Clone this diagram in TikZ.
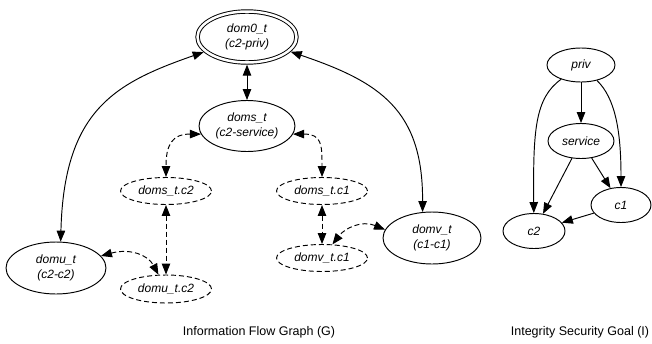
\documentclass[tikz,border=0pt]{standalone}
\usepackage{fontspec}
\setmainfont{Liberation Sans}
\usetikzlibrary{arrows.meta, shapes.geometric}

\begin{document}
\begin{tikzpicture}[
    x=1pt, y=-1pt,
    domnode/.style={
        ellipse, draw=black, line width=0.95pt, inner sep=0pt,
        minimum width=98pt, minimum height=52pt,
        align=center, font=\fontsize{12}{15}\selectfont\itshape
    },
    subnode/.style={
        domnode, dashed, dash pattern=on 5pt off 3pt,
        minimum width=91pt, minimum height=27pt
    },
    goalnode/.style={
        domnode, minimum width=66pt, minimum height=35pt
    },
    graphtitle/.style={font=\fontsize{12.5}{15}\selectfont},
    flow/.style={{Triangle[length=11pt,width=8.5pt]}-{Triangle[length=11pt,width=8.5pt]}, line width=0.95pt, draw=black},
    subflow/.style={flow, dash pattern=on 5pt off 3pt},
    goal/.style={-{Triangle[length=11pt,width=8.5pt]}, line width=0.95pt, draw=black}
]
\useasboundingbox (0,0) rectangle (652,343);

% Information flow graph
\node[domnode, double, double distance=2.5pt, outer sep=2.2pt,
      minimum width=99pt, minimum height=51pt] (dom0) at (247,37) {dom0\_t\\(c2-priv)};
\node[domnode, minimum width=96pt, minimum height=51pt] (doms) at (247,126) {doms\_t\\(c2-service)};
\node[domnode, minimum width=100pt] (domu) at (56,268) {domu\_t\\(c2-c2)};
\node[domnode] (domv) at (432,238) {domv\_t\\(c1-c1)};

% Sub-domains (dashed)
\node[subnode] (domsC2) at (166,191) {doms\_t.c2};
\node[subnode, minimum height=28pt] (domuC2) at (166,289) {domu\_t.c2};
\node[subnode] (domsC1) at (322,191) {doms\_t.c1};
\node[subnode] (domvC1) at (322,258) {domv\_t.c1};

% Flows from dom0_t
\draw[flow] (dom0) -- (doms);
\draw[flow] (dom0) .. controls (115,83) and (64,110) .. (domu.80);
\draw[flow] (dom0) .. controls (380,82) and (423,110) .. (domv.110);

% Flows between sub-domains
\draw[subflow] (doms.190) .. controls (172,134) and (166,145) .. (domsC2);
\draw[subflow] (doms.350) .. controls (322,134) and (322,145) .. (domsC1);
\draw[subflow] (domsC2) -- (domuC2);
\draw[subflow] (domsC1) -- (domvC1);
\draw[subflow] (domu.15) .. controls (130,248) and (148,255) .. (domuC2);
\draw[subflow] (domv.170) .. controls (362,220) and (345,228) .. (domvC1);

% Integrity security goal
\node[goalnode, minimum width=68pt, minimum height=34pt] (gpriv) at (581,65) {priv};
\node[goalnode] (gservice) at (581,141) {service};
\node[goalnode, minimum width=60pt] (gc1) at (621,205) {c1};
\node[goalnode, minimum width=62pt] (gc2) at (534,231) {c2};

\draw[goal] (gpriv) -- (gservice);
\draw[goal] (gpriv) .. controls (535,98) and (533,130) .. (gc2);
\draw[goal] (gpriv) .. controls (615,98) and (621,130) .. (gc1);
\draw[goal] (gservice) -- (gc2);
\draw[goal] (gservice) -- (gc1);
\draw[goal] (gc1) -- (gc2);

% Titles
\node[graphtitle] (titleG) at (259,332) {Information Flow Graph (G)};
\node[graphtitle] (titleI) at (580,332) {Integrity Security Goal (I)};

\end{tikzpicture}
\end{document}
